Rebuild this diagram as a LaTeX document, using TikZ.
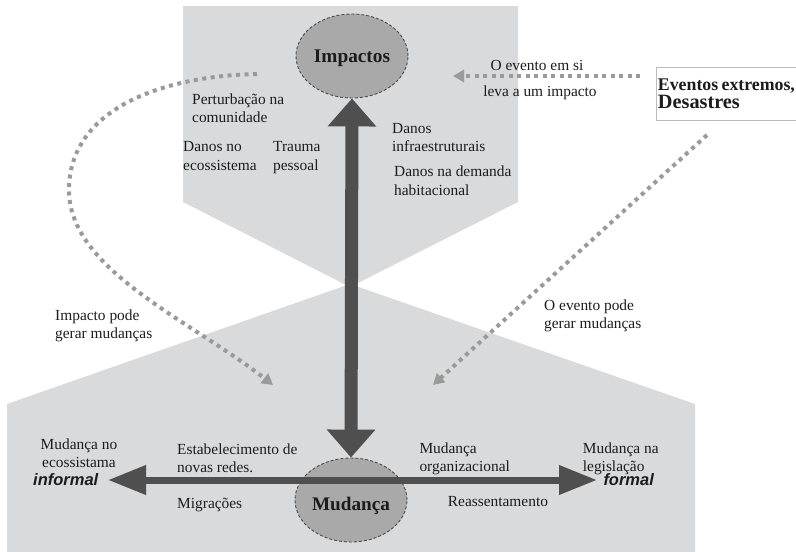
\documentclass[tikz,border=0pt]{standalone}
\usepackage{fontspec}
\setmainfont{Liberation Serif}
\newfontfamily\lserif{Liberation Serif}
\newfontfamily\lsans{Liberation Sans}
\usetikzlibrary{arrows.meta,shapes.geometric}
\definecolor{bgc}{HTML}{D9DADB}
\definecolor{darkarr}{HTML}{4F4F4F}
\definecolor{ellfill}{HTML}{A9A9A9}
\definecolor{ellline}{HTML}{4A4A4A}
\definecolor{dotc}{HTML}{9A9A9A}
\definecolor{txt}{HTML}{1C1C1C}
\definecolor{boxline}{HTML}{BBBBBB}
\begin{document}
\begin{tikzpicture}[x=1pt,y=-1pt,
  lbl/.style={inner sep=0pt, anchor=base west, align=left, text=txt,
    font=\lserif\fontsize{15.4}{18.6}\selectfont},
  sfbi/.style={inner sep=0pt, anchor=base west, text=txt,
    font=\lsans\fontsize{16.5}{19}\selectfont\bfseries\itshape},
  ellnode/.style={ellipse, fill=ellfill, draw=ellline, line width=0.9pt,
    dash pattern=on 3pt off 2pt, inner sep=0pt, minimum width=112pt,
    minimum height=84pt},
  bigbold/.style={inner sep=0pt, text=txt, text height=12.7pt, text depth=0pt,
    font=\lserif\fontsize{19.2}{22}\selectfont\bfseries},
  dotarrow/.style={draw=dotc, line width=4pt, dash pattern=on 4pt off 4.5pt,
    -{Triangle[length=11pt,width=12pt]}},
  bigarrow/.style={draw=darkarr, line width=13pt,
    {Triangle[length=28pt,width=47pt]}-{Triangle[length=28pt,width=47pt]}},
  harrow/.style={draw=darkarr, line width=7pt,
    {Triangle[length=38pt,width=28pt]}-{Triangle[length=38pt,width=28pt]}},
  evbox/.style={draw=boxline, fill=white, line width=0.9pt, anchor=north west,
    inner xsep=1.5pt, inner ysep=0pt, text width=150pt, minimum height=53pt,
    align=left, text=txt}
]
\useasboundingbox (0,0) rectangle (796,552);
% background shapes
\fill[bgc] (183,6) -- (518,6) -- (518,202) -- (350,287) -- (183,202) -- cycle;
\fill[bgc] (7,404) -- (350,284) -- (695,404) -- (695,552) -- (7,552) -- cycle;

% event box
\node[evbox] (ev) at (656,67)
  {{\lserif\fontsize{17.8}{21}\selectfont\bfseries Eventos extremos,}\\[1pt]
   {\lserif\fontsize{20.3}{23}\selectfont\bfseries Desastres}};

% dotted connectors
\coordinate (c1s) at (257,74);
\coordinate (c1e) at (273,385);
\coordinate (c2s) at (640,76);
\coordinate (c2e) at (453,76);
\coordinate (c3s) at (707,135);
\coordinate (c3e) at (433,385);
\draw[dotarrow] (c1s) .. controls (160,76) and (69,110) .. (69,190)
  .. controls (69,270) and (190,320) .. (c1e);
\draw[dotarrow] (c2s) -- (c2e);
\draw[dotarrow] (c3s) -- (c3e);

% ellipses
\node[ellnode, font=\lserif\fontsize{19.3}{22}\selectfont\bfseries, text=txt,
  text height=12.8pt, text depth=0pt] (imp) at (352,56) {Impactos};
\node[ellnode] (mud) at (351,500) {};

% thick arrows
\draw[bigarrow] (mud.north) -- (imp.south);
\coordinate (hl) at (108,480);
\coordinate (hr) at (597,480);
\draw[harrow] (hl) -- (hr);

\node[bigbold] (mudtext) at (351,504) {Mudança};

% labels (base anchor = baseline of the last line)
\node[lbl] (t1) at (192,122.6) {Perturbação na\\comunidade};
\node[lbl] (t2) at (183,170.1) {Danos no\\ecossistema};
\node[lbl] (t3) at (273,170.1) {Trauma\\pessoal};
\node[lbl] (t4) at (392,151.9) {Danos\\infraestruturais};
\node[lbl] (t5) at (394,195.3) {Danos na demanda\\habitacional};
\node[lbl, anchor=base] (t6) at (537,70) {O evento em si};
\node[lbl, anchor=base] (t7) at (540,96.7) {leva a um impacto};
\node[lbl] (t8) at (55,338.8) {Impacto pode\\gerar mudanças};
\node[lbl] (t9) at (544,328.6) {O evento pode\\gerar mudanças};
\node[lbl, align=center, anchor=base] (t10) at (79,467.9) {Mudança no\\ecossistama};
\node[sfbi] (t11) at (33,485) {informal};
\node[lbl] (t12) at (177,472.6) {Estabelecimento de\\novas redes.};
\node[lbl] (t13) at (177,508.3) {Migrações};
\node[lbl] (t14) at (419.3,471.9) {Mudança\\organizacional};
\node[lbl] (t15) at (447.7,506.7) {Reassentamento};
\node[lbl] (t16) at (582.7,471.9) {Mudança na\\legislação};
\node[sfbi] (t17) at (603.3,485) {formal};
\end{tikzpicture}
\end{document}
